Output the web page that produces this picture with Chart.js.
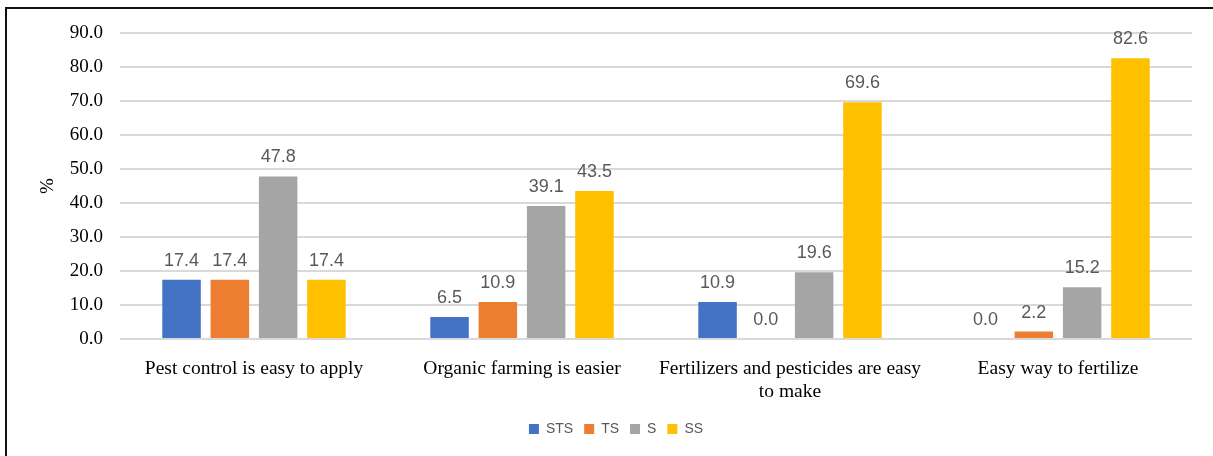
<!DOCTYPE html>
<html>
<head>
<meta charset="utf-8">
<script src="https://cdn.jsdelivr.net/npm/chart.js@4.4.0/dist/chart.umd.min.js"></script>
<style>
  html, body { margin: 0; padding: 0; background: #fff; }
  #wrap { position: relative; width: 1213px; height: 456px; }
  #frame { position: absolute; left: 5px; top: 7px; right: 0; bottom: 0;
           border-left: 2px solid #111; border-top: 2px solid #111; pointer-events: none; }
  canvas { position: absolute; left: 0; top: 0; }
</style>
</head>
<body>
<div id="wrap">
  <canvas id="c" width="1213" height="456"></canvas>
  <div id="frame"></div>
</div>
<script>
const categories = [
  "Pest control is easy to apply",
  "Organic farming is easier",
  ["Fertilizers and pesticides are easy", "to make"],
  "Easy way to fertilize"
];
const seriesNames = ["STS", "TS", "S", "SS"];
const seriesColors = ["#4472C4", "#ED7D31", "#A5A5A5", "#FFC000"];
const STS = [17.4, 6.5, 10.9, 0.0];
const TS  = [17.4, 10.9, 0.0, 2.2];
const S   = [47.8, 39.1, 19.6, 15.2];
const SS  = [17.4, 43.5, 69.6, 82.6];
const seriesValues = [STS, TS, S, SS];
const yTicks = [0, 10, 20, 30, 40, 50, 60, 70, 80, 90];

const dataLabels = {
  id: 'dataLabels',
  afterDatasetsDraw(chart) {
    const ctx = chart.ctx;
    ctx.save();
    ctx.font = '18px "Liberation Sans", Arial, sans-serif';
    ctx.fillStyle = '#595959';
    ctx.textAlign = 'center';
    ctx.textBaseline = 'alphabetic';
    chart.data.datasets.forEach((ds, i) => {
      const meta = chart.getDatasetMeta(i);
      meta.data.forEach((bar, j) => {
        ctx.fillText(ds.data[j].toFixed(1), bar.x, bar.y - 14);
      });
    });
    ctx.restore();
  }
};

new Chart(document.getElementById('c'), {
  type: 'bar',
  data: {
    labels: categories,
    datasets: seriesNames.map((n, i) => ({
      label: n,
      data: seriesValues[i],
      backgroundColor: seriesColors[i],
      borderWidth: 0,
      categoryPercentage: 0.721,
      barPercentage: 0.797
    }))
  },
  options: {
    responsive: false,
    animation: false,
    layout: { padding: { top: 33, right: 21, left: 40, bottom: 10 } },
    plugins: {
      legend: {
        position: 'bottom',
        labels: {
          boxWidth: 10, boxHeight: 10, padding: 11,
          color: '#595959',
          font: { family: '"Liberation Sans", Arial, sans-serif', size: 14 }
        }
      },
      tooltip: { enabled: false }
    },
    scales: {
      x: {
        grid: { display: false },
        border: { display: false },
        ticks: {
          color: '#000',
          padding: 10,
          maxRotation: 0,
          autoSkip: false,
          font: { family: '"Liberation Serif", "Times New Roman", serif', size: 19.5, lineHeight: 1.2 }
        },
        afterFit(scale) { scale.height = 72; }
      },
      y: {
        min: 0, max: 90,
        afterBuildTicks(scale) { scale.ticks = yTicks.map(v => ({ value: v })); },
        grid: { color: '#d9d9d9', lineWidth: 2, drawTicks: false },
        border: { display: false },
        ticks: {
          color: '#000',
          padding: 17,
          callback: v => Number(v).toFixed(1),
          font: { family: '"Liberation Serif", "Times New Roman", serif', size: 19 }
        },
        title: {
          display: true, text: '%', color: '#000',
          padding: { top: -3, bottom: 0 },
          font: { family: '"Liberation Serif", "Times New Roman", serif', size: 19 }
        },
        afterFit(scale) { scale.width = 80; }
      }
    }
  },
  plugins: [dataLabels]
});
</script>
</body>
</html>
